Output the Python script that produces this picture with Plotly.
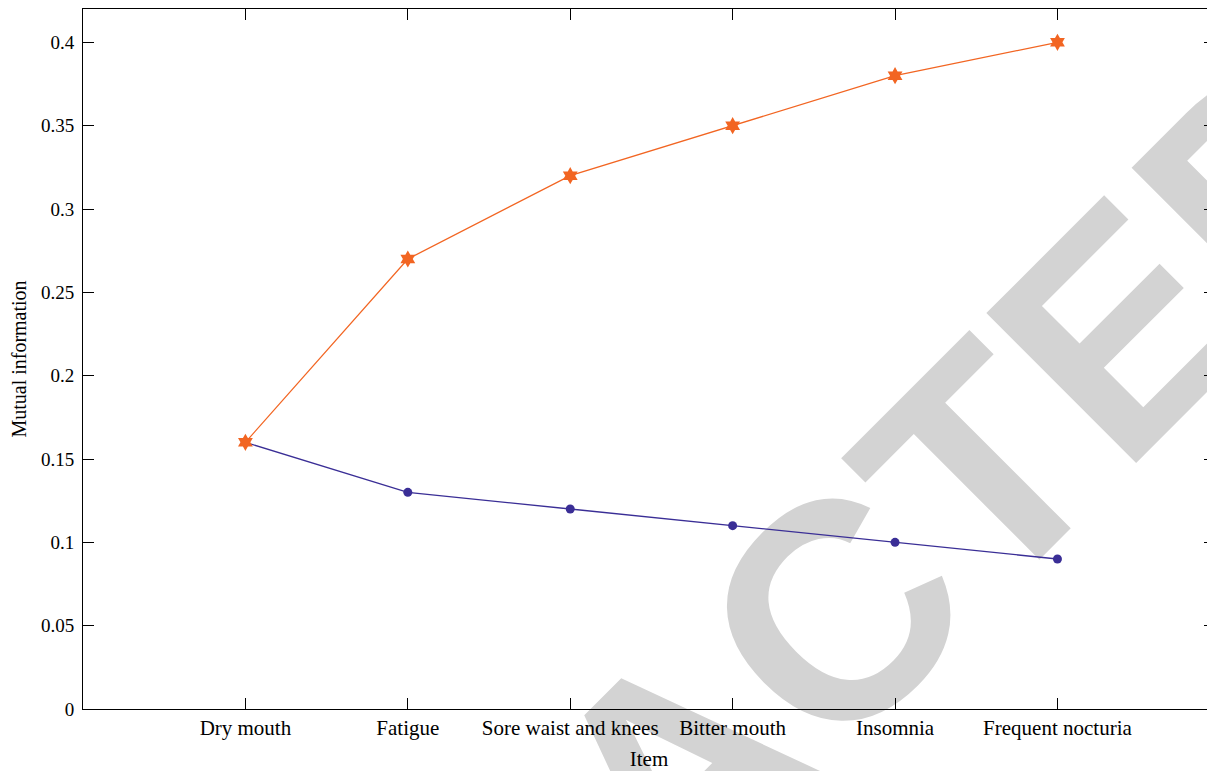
import plotly.graph_objects as go

categories = ["Dry mouth", "Fatigue", "Sore waist and knees", "Bitter mouth", "Insomnia", "Frequent nocturia"]
series_orange = [0.16, 0.27, 0.32, 0.35, 0.38, 0.40]
series_blue = [0.16, 0.13, 0.12, 0.11, 0.10, 0.09]
y_ticks = [0, 0.05, 0.1, 0.15, 0.2, 0.25, 0.3, 0.35, 0.4]
y_ticklabels = ["0", "0.05", "0.1", "0.15", "0.2", "0.25", "0.3", "0.35", "0.4"]
watermark = "RETRACTED"

ORANGE = "#F26522"
BLUE = "#3A2E96"
FONT = "Liberation Serif"

fig = go.Figure()
fig.add_trace(go.Scatter(
    x=categories, y=series_blue, mode="lines+markers",
    line=dict(color=BLUE, width=1.3),
    marker=dict(symbol="circle", size=9, color=BLUE),
    showlegend=False,
))
fig.add_trace(go.Scatter(
    x=categories, y=series_orange, mode="lines+markers",
    line=dict(color=ORANGE, width=1.3),
    marker=dict(symbol="hexagram", size=13, color=ORANGE),
    showlegend=False,
))

fig.add_shape(
    type="rect", xref="paper", yref="paper",
    x0=0.5016, x1=0.5116, y0=-0.067, y1=-0.051,
    line=dict(width=0), fillcolor="rgba(0,0,0,0)", layer="below",
    label=dict(text=watermark, textangle=-45, textposition="middle center",
               font=dict(family="Liberation Sans", size=308, color="#d3d3d3", weight="bold")),
)

fig.update_layout(
    width=1207, height=763,
    margin=dict(l=75, r=0, t=1, b=62),
    paper_bgcolor="white", plot_bgcolor="rgba(0,0,0,0)",
    font=dict(family=FONT, size=19, color="black"),
    xaxis=dict(
        type="category", range=[-1, 5.97],
        showline=True, linecolor="black", linewidth=1, mirror="ticks",
        ticks="inside", ticklen=11, tickcolor="black", tickwidth=1,
        showgrid=False, zeroline=False,
        title=dict(text="Item", standoff=14, font=dict(family=FONT, size=21)),
        tickfont=dict(family=FONT, size=21),
    ),
    yaxis=dict(
        range=[0, 0.42], tickvals=y_ticks, ticktext=y_ticklabels,
        showline=True, linecolor="black", linewidth=1, mirror="ticks",
        ticks="inside", ticklen=11, tickcolor="black", tickwidth=1,
        showgrid=False, zeroline=False, ticklabelstandoff=4,
        title=dict(text="Mutual information", standoff=9, font=dict(family=FONT, size=20)),
        tickfont=dict(family=FONT, size=19),
    ),
)

fig.write_html("out.html")
